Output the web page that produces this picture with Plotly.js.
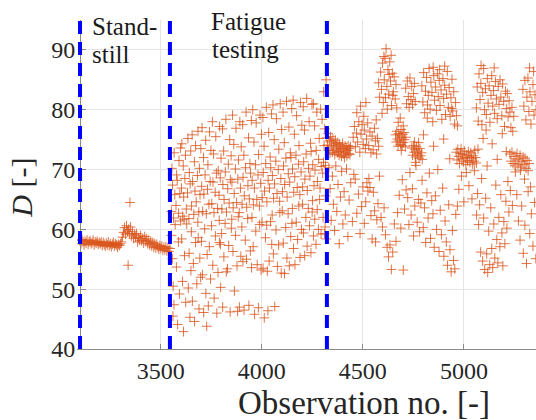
<!DOCTYPE html>
<html>
<head>
<meta charset="utf-8">
<script src="https://cdn.plot.ly/plotly-3.0.1.min.js"></script>
<style>html,body{margin:0;padding:0;background:#fff;}#chart{width:536px;height:420px;}</style>
</head>
<body>
<div id="chart"></div>
<script>
// ---- Data (observation no., D) ----
const phaseBounds = [3100, 3545, 4322];
const xTicks = [3500, 4000, 4500, 5000];
const yTicks = [40, 50, 60, 70, 80, 90];
const standstillLabel = ["Stand-", "still"];
const fatigueLabel = ["Fatigue", "testing"];
const xTitle = "Observation no. [-]";
const yTitle = "<i>D</i> [-]";

const standstill = [
[3100,58.1],[3105,57.6],[3110,58.3],[3115,57.9],[3120,57.4],[3125,58.0],[3130,57.7],[3135,58.2],[3140,57.5],[3145,57.9],
[3150,58.1],[3155,57.6],[3160,57.8],[3165,58.2],[3170,57.4],[3175,57.9],[3180,57.7],[3185,58.0],[3190,57.5],[3195,57.8],
[3200,57.6],[3205,57.9],[3210,57.3],[3215,57.8],[3220,57.5],[3225,57.2],[3230,57.7],[3235,57.4],[3240,57.9],[3245,57.3],
[3250,57.6],[3255,57.1],[3260,57.5],[3265,57.8],[3270,57.2],[3275,57.6],[3280,57.4],[3285,57.0],[3290,57.5],[3295,57.3],
[3300,57.6],[3305,57.9],[3310,58.7],[3315,59.5],[3320,60.3],[3325,59.2],[3330,60.6],[3335,59.7],[3340,60.0],[3345,59.3],
[3350,60.4],[3355,58.9],[3360,59.6],[3365,58.5],[3370,59.2],[3375,58.7],[3380,59.3],[3385,57.9],[3390,58.6],[3395,58.2],
[3400,59.0],[3405,58.1],[3410,58.5],[3415,57.7],[3420,58.8],[3425,58.0],[3430,58.4],[3435,57.6],[3440,58.2],[3445,57.4],
[3450,58.0],[3455,57.2],[3460,57.8],[3465,57.0],[3470,57.6],[3475,56.9],[3480,57.5],[3485,57.1],[3490,56.7],[3495,57.3],
[3500,56.8],[3505,57.2],[3510,56.5],[3515,57.0],[3520,56.6],[3525,57.1],[3530,56.4],[3535,56.9],[3540,56.3],[3545,56.8],
[3338,54.0],[3347,64.5]
];

const fatigue = [
[3552,63.0],[3558,67.4],[3563,61.9],[3569,65.8],[3575,64.0],[3581,68.2],[3588,62.7],[3594,66.0],
[3555,70.2],[3566,72.8],[3578,69.1],[3590,71.5],[3597,73.6],
[3553,59.0],[3557,55.1],[3561,50.5],[3565,47.4],[3571,60.8],[3577,53.7],[3583,44.1],[3587,57.9],[3592,49.2],[3598,61.4],[3560,45.5],
[3602,66.9],[3608,62.2],[3613,65.4],[3619,68.5],[3626,63.4],[3632,66.1],[3639,61.8],[3645,67.6],
[3604,74.3],[3611,70.6],[3622,72.4],[3634,75.2],[3641,69.5],[3648,73.1],
[3603,58.4],[3607,51.3],[3612,42.9],[3617,55.6],[3623,47.8],[3628,60.9],[3636,50.2],[3640,56.0],[3644,45.3],[3649,53.1],[3615,61.7],
[3652,63.9],[3657,68.0],[3663,62.5],[3669,66.4],[3675,64.6],[3681,69.0],[3688,62.9],[3694,65.8],
[3655,75.8],[3666,71.3],[3672,74.0],[3684,76.4],[3691,70.2],[3698,73.5],
[3651,59.6],[3656,48.0],[3661,54.3],[3667,44.6],[3672,57.8],[3678,50.9],[3683,61.2],[3689,46.7],[3693,55.2],[3697,52.0],[3685,58.6],
[3702,67.2],[3707,63.0],[3713,65.9],[3719,69.1],[3725,62.6],[3731,66.7],[3738,64.2],[3744,68.0],
[3704,77.0],[3711,72.0],[3722,74.9],[3733,70.8],[3741,76.3],[3748,73.2],
[3701,58.0],[3706,52.4],[3712,46.1],[3717,60.1],[3723,49.3],[3729,55.8],[3735,47.2],[3740,57.1],[3746,51.7],[3727,43.8],
[3752,64.3],[3758,67.9],[3763,62.8],[3769,66.2],[3775,69.4],[3781,63.5],[3788,65.7],[3794,68.6],[3790,57.8],[3795,57.5],
[3755,78.0],[3761,72.6],[3772,75.5],[3784,69.8],[3791,77.2],[3798,71.9],
[3751,60.6],[3757,54.0],[3764,48.5],[3770,58.9],[3777,46.0],[3783,52.8],[3789,61.5],[3796,50.3],
[3802,63.4],[3807,67.5],[3813,65.0],[3819,69.6],[3825,62.9],[3831,66.8],[3838,64.4],[3844,68.3],
[3805,76.8],[3811,73.1],[3822,78.4],[3834,70.9],[3841,75.0],[3848,72.3],
[3801,59.3],[3806,47.0],[3812,55.4],[3818,61.0],[3824,52.9],[3830,53.4],[3836,57.3],[3843,46.2],[3849,60.2],
[3852,67.9],[3858,63.6],[3863,66.0],[3869,70.1],[3875,64.5],[3881,68.4],[3888,62.8],[3894,66.9],
[3855,79.1],[3861,74.2],[3872,76.9],[3884,71.6],[3891,78.0],[3898,73.8],
[3851,61.7],[3857,56.3],[3864,49.7],[3870,59.0],[3877,53.9],[3883,62.1],[3889,47.0],[3896,55.5],[3880,46.3],
[3902,64.2],[3907,68.7],[3913,65.6],[3919,70.3],[3925,63.7],[3931,67.3],[3938,65.1],[3944,69.4],
[3905,77.5],[3911,72.4],[3922,79.6],[3934,75.3],[3941,71.0],[3948,78.2],
[3901,60.4],[3906,54.6],[3912,46.5],[3918,58.2],[3924,55.0],[3930,61.8],[3936,47.3],[3943,56.4],[3949,53.6],
[3952,68.2],[3958,64.1],[3963,66.9],[3969,70.8],[3975,65.0],[3981,69.1],[3988,63.9],[3994,67.7],
[3955,80.0],[3961,74.6],[3972,77.8],[3984,72.5],[3991,79.1],[3998,75.9],
[3951,62.0],[3957,57.1],[3964,45.8],[3970,59.7],[3977,54.1],[3983,46.9],[3989,60.8],[3996,53.2],
[4002,65.3],[4007,69.5],[4013,66.4],[4019,71.0],[4025,64.6],[4031,68.2],[4038,66.9],[4044,70.3],
[4005,78.7],[4011,73.9],[4022,80.4],[4034,76.2],[4041,72.1],[4048,79.3],
[4001,61.2],[4006,53.5],[4012,45.2],[4018,58.6],[4024,60.7],[4030,46.4],[4036,54.7],[4043,61.3],[4049,57.5],[4027,53.0],
[4052,69.0],[4058,65.2],[4063,67.6],[4069,71.4],[4075,66.0],[4081,70.0],[4088,64.7],[4094,68.5],
[4055,80.8],[4061,75.0],[4072,78.5],[4084,73.4],[4091,81.0],[4098,76.7],
[4051,62.4],[4057,55.9],[4064,47.1],[4070,59.9],[4077,53.8],[4083,57.4],[4089,62.8],[4096,52.7],
[4102,66.3],[4107,70.6],[4113,67.5],[4119,71.9],[4125,65.4],[4131,69.3],[4138,67.9],[4144,72.0],
[4105,79.6],[4111,74.5],[4122,81.4],[4134,77.1],[4141,72.8],[4148,80.2],
[4101,63.1],[4106,57.7],[4112,52.6],[4118,60.3],[4124,55.2],[4130,62.6],[4136,53.9],[4143,58.8],[4149,61.0],
[4152,70.1],[4158,66.2],[4163,68.8],[4169,72.4],[4175,67.0],[4181,70.9],[4188,65.8],[4194,69.6],
[4155,81.6],[4161,75.9],[4172,79.0],[4184,74.0],[4191,81.2],[4198,77.4],
[4151,63.5],[4157,56.8],[4164,54.1],[4170,61.2],[4177,58.3],[4183,63.9],[4189,55.3],[4196,60.0],
[4202,67.1],[4207,71.3],[4213,68.4],[4219,72.6],[4225,66.5],[4231,70.2],[4238,68.9],[4244,73.0],
[4205,80.5],[4211,76.6],[4222,81.9],[4234,78.0],[4241,74.4],[4248,80.9],
[4201,64.2],[4206,59.4],[4212,55.6],[4218,62.0],[4224,57.2],[4230,63.5],[4236,60.6],[4243,56.1],[4249,62.9],
[4252,70.8],[4258,67.3],[4263,69.9],[4269,73.2],[4275,68.0],[4281,71.7],[4288,66.9],[4294,70.5],
[4255,81.0],[4261,77.3],[4272,79.6],[4284,75.2],[4291,80.1],[4298,78.4],
[4251,64.8],[4256,58.9],[4262,61.7],[4268,57.5],[4274,63.3],[4280,60.0],[4286,65.0],[4293,59.2],
[4301,69.4],[4305,71.2],[4308,74.0],[4311,76.8],[4303,62.0],[4313,60.4],[4316,65.6],[4318,85.0],[4306,83.0],[4319,58.4],[4315,70.7],[4310,59.3]
];

const afterTest = [
[4322,75.3],[4325,74.1],[4328,76.0],[4331,73.2],[4334,74.8],[4337,72.7],[4340,75.5],[4343,73.9],[4346,74.6],[4349,72.9],
[4352,75.1],[4355,73.6],[4358,74.3],[4361,72.5],[4364,74.9],[4367,73.3],[4370,74.0],[4373,72.8],[4376,74.5],[4379,73.1],
[4382,72.4],[4385,74.2],[4388,73.0],[4391,73.8],[4394,72.2],[4397,73.5],[4400,74.4],[4403,72.6],[4406,73.4],[4409,72.0],
[4412,73.9],[4415,72.9],[4418,73.6],[4421,72.3],[4424,73.2],[4427,74.0],[4430,72.7],[4433,73.5],[4436,72.5],[4439,73.8],
[4452,75.4],[4458,77.2],[4463,73.8],[4469,76.1],[4474,74.6],[4480,78.0],[4485,72.9],[4491,75.9],[4496,77.5],[4502,74.2],
[4507,76.6],[4513,73.5],[4518,75.1],[4524,77.8],[4529,74.0],[4535,76.3],[4540,72.8],[4546,75.6],[4551,73.3],[4557,76.9],
[4562,74.8],[4568,72.6],[4573,75.2],[4578,73.9],[4566,78.3],
[4470,79.5],[4488,80.6],[4505,78.9],[4515,81.2],
[4578,84.5],[4583,82.1],[4588,86.3],[4592,83.4],[4597,87.8],[4601,81.2],[4606,85.0],[4610,88.6],[4615,90.2],[4619,83.9],
[4624,86.7],[4628,82.6],[4633,88.0],[4637,84.8],[4642,80.7],[4646,86.1],[4651,83.0],[4655,85.5],[4660,81.8],[4664,84.2],
[4668,80.3],[4595,79.4],[4621,80.1],[4640,89.1],[4612,82.0],[4630,85.9],[4648,82.4],[4604,88.9],
[4662,75.8],[4665,74.6],[4668,76.4],[4671,75.1],[4674,73.9],[4677,76.0],[4680,74.8],[4683,75.6],[4686,74.2],[4689,76.7],
[4692,75.3],[4695,74.0],[4698,75.9],[4701,74.5],[4704,76.2],[4707,75.0],[4710,73.8],[4713,75.4],[4675,77.9],[4690,73.2],
[4700,77.3],[4685,78.6],
[4712,83.6],[4716,81.0],[4720,84.8],[4725,82.2],[4729,80.4],[4733,85.3],[4738,81.7],[4742,83.9],[4746,80.9],[4751,82.7],
[4755,84.4],[4759,81.4],
[4742,73.6],[4746,72.4],[4750,74.0],[4754,72.9],[4758,73.4],[4762,72.1],[4766,73.8],[4770,72.6],[4774,73.1],[4778,71.9],
[4782,73.5],[4786,72.3],[4790,72.8],[4794,71.7],[4760,71.2],[4776,74.5],
[4792,84.0],[4797,81.3],[4801,86.2],[4806,79.5],[4810,83.1],[4815,85.4],[4819,78.6],[4824,82.4],[4828,86.9],[4833,80.1],
[4837,84.6],[4842,82.9],[4846,78.0],[4851,85.7],[4855,81.6],[4860,83.8],[4864,79.9],[4869,86.0],[4873,82.2],[4878,84.9],
[4882,80.7],[4887,83.3],[4891,78.4],[4896,85.2],[4900,81.9],[4905,84.1],[4909,79.2],[4914,82.6],[4918,86.4],[4923,80.4],
[4927,83.7],[4932,78.9],[4936,82.0],[4941,85.1],[4945,79.8],[4950,83.0],[4954,77.6],[4959,81.2],[4963,79.0],[4968,77.3],
[4848,87.1],[4880,86.7],[4905,87.3],[4820,80.8],[4940,80.2],
[4962,72.9],[4966,71.6],[4970,73.4],[4974,72.2],[4978,71.0],[4982,72.7],[4986,73.5],[4990,71.8],[4994,72.5],[4998,71.3],
[5002,73.1],[5006,72.0],[5010,70.8],[5014,72.4],[5018,71.5],[5022,73.0],[5026,72.1],[5030,71.2],[5034,72.8],[5038,71.9],
[5042,70.9],[5046,72.3],[5050,71.4],[5054,73.2],[5058,72.0],[5062,71.1],
[5062,80.3],[5066,83.8],[5071,78.1],[5075,86.0],[5080,81.7],[5084,84.4],[5089,77.5],[5093,82.9],[5098,86.9],[5102,80.0],
[5107,83.5],[5111,79.2],[5116,85.2],[5120,81.1],[5125,84.0],[5129,77.9],[5134,82.4],[5138,85.7],[5143,80.6],[5147,83.2],
[5152,79.4],[5156,84.7],[5161,81.8],[5165,78.5],[5170,83.9],[5174,80.9],[5179,85.0],[5183,82.1],[5188,79.0],[5192,84.3],
[5197,81.4],[5201,77.2],[5206,83.1],[5210,80.2],[5215,82.7],[5219,78.8],[5224,81.5],[5228,79.6],[5233,77.0],[5238,80.4],
[5242,76.4],[5247,78.9],[5085,87.4],[5150,87.0],[5110,76.6],
[5228,72.6],[5233,71.4],[5238,72.9],[5243,71.0],[5248,72.2],[5253,70.6],[5258,71.8],[5263,72.7],[5268,70.9],[5273,71.6],
[5278,72.4],[5283,70.4],[5288,71.3],[5293,72.1],[5298,70.8],[5303,71.9],[5308,70.2],[5313,71.5],[5318,69.8],[5323,71.0],
[5255,69.6],[5280,69.9],
[5292,83.4],[5297,80.6],[5302,84.9],[5307,78.3],[5312,82.1],[5317,85.3],[5322,79.7],[5327,83.0],[5332,77.6],[5337,81.4],
[5342,84.2],[5347,79.1],[5352,82.5],[5357,80.0],[5325,87.0],[5345,86.4],
[4332,70.3],[4338,66.8],[4343,61.5],[4349,68.9],[4354,64.2],[4360,59.8],[4366,70.6],[4371,63.0],[4377,67.5],[4383,57.6],
[4389,65.4],[4395,69.7],[4401,60.9],[4407,66.3],[4413,62.4],[4419,70.1],[4426,58.8],[4432,64.9],[4440,67.8],[4448,61.3],[4455,69.2],
[4462,68.4],[4470,62.7],[4478,65.9],[4486,59.3],[4493,63.8],[4500,67.1],[4507,61.0],[4514,64.6],[4520,67.8],[4525,66.4],
[4530,68.5],[4535,67.0],[4540,62.3],[4546,58.4],[4552,66.2],[4558,63.1],[4563,57.9],[4569,61.6],[4575,64.3],[4582,68.9],
[4590,62.0],[4597,60.4],[4605,63.6],[4612,59.1],[4620,57.0],[4627,55.4],[4634,57.4],[4641,53.3],[4648,56.2],[4656,60.9],
[4664,58.0],[4672,62.8],[4680,65.7],[4688,60.2],[4695,68.3],[4700,53.2],[4706,63.4],[4714,66.6],
[4722,65.3],[4728,60.8],[4733,69.5],[4739,62.4],[4745,66.8],[4751,58.9],[4757,63.9],[4763,70.7],[4769,61.2],[4775,65.0],
[4781,59.6],[4787,64.4],[4793,68.2],[4799,60.3],[4805,63.6],[4811,57.8],[4817,66.1],[4823,61.9],[4829,69.4],[4835,58.5],
[4841,64.8],[4847,62.6],[4853,57.0],[4859,65.6],[4865,60.0],[4871,70.0],[4877,56.3],[4883,63.2],[4889,59.1],[4895,66.9],
[4901,55.5],[4907,61.4],[4913,57.9],[4919,54.0],[4925,64.1],[4931,56.6],[4937,52.9],[4943,59.8],[4949,54.8],[4955,53.4],
[4960,62.5],[4755,74.6],[4800,75.8],[4850,73.9],[4900,75.1],[4930,71.8],
[4975,66.7],[4988,68.9],[5000,64.6],[5012,69.5],[5025,67.3],[5040,65.1],[5052,69.8],[4968,63.9],
[5063,62.4],[5068,66.0],[5073,60.8],[5078,64.1],[5083,56.2],[5088,68.5],[5093,54.7],[5098,61.9],[5103,53.3],[5108,65.2],
[5113,55.9],[5118,52.8],[5123,59.7],[5128,54.1],[5133,63.6],[5138,56.8],[5143,53.6],[5148,60.9],[5153,55.2],[5158,67.4],
[5163,58.3],[5168,54.4],[5173,62.0],[5178,57.1],[5183,65.8],[5188,59.4],[5193,53.9],[5198,61.3],[5203,57.6],[5208,64.7],
[5213,60.2],[5218,68.0],[5223,62.9],[5230,66.5],[5240,64.0],[5070,73.4],[5095,75.2],[5115,70.6],[5140,74.3],[5165,71.7],
[5190,76.0],[5210,73.0],
[5262,65.8],[5270,61.4],[5278,58.2],[5286,63.9],[5294,56.0],[5302,60.7],[5310,54.3],[5318,66.3],[5326,59.3],[5334,62.6],
[5342,57.2],[5350,64.5],[5356,55.1],[5300,68.4],[5330,67.1]
];

// ---- Drawing ----
const markerStyle = {
  symbol: 'cross-thin', size: 7,
  color: 'rgba(217,83,25,0.8)',
  line: {color: 'rgba(217,83,25,0.8)', width: 1}
};
function seg(pairs) {
  return {
    type: 'scatter', mode: 'markers',
    x: pairs.map(p => p[0]), y: pairs.map(p => p[1]),
    marker: markerStyle, hoverinfo: 'skip', showlegend: false
  };
}
const traces = [seg(standstill), seg(fatigue), seg(afterTest)];

const shapes = phaseBounds.map(b => ({
  type: 'line', xref: 'x', yref: 'paper', x0: b, x1: b, y0: 0, y1: 1,
  line: {color: '#0000ff', width: 4, dash: '13px,8px'}, layer: 'above'
}));

const serif = '"Liberation Serif", "Times New Roman", serif';
const txt = '#262626';
const labFont = {family: serif, size: 25, color: '#1a1a1a'};
function lab(text, x, y, anchor) {
  return {text: text, xref: 'x', yref: 'paper', x: x, y: y, xanchor: anchor, yanchor: 'middle',
          showarrow: false, font: labFont};
}
const layout = {
  width: 536, height: 420,
  margin: {l: 77, r: 0, t: 20, b: 71},
  paper_bgcolor: '#ffffff', plot_bgcolor: '#ffffff',
  font: {family: serif, color: txt},
  showlegend: false,
  xaxis: {
    range: [3085, 5357], tickvals: xTicks, ticktext: xTicks.map(String),
    showgrid: true, gridcolor: '#e5e5e5', gridwidth: 1,
    ticks: 'inside', ticklen: 5, tickcolor: '#8a8a8a',
    showline: true, linecolor: '#8a8a8a', linewidth: 1, zeroline: false,
    tickfont: {family: serif, size: 24, color: txt},
    ticklabelstandoff: 0
  },
  yaxis: {
    range: [40, 95], tickvals: yTicks, ticktext: yTicks.map(String),
    anchor: 'free', position: 0.0066,
    showgrid: true, gridcolor: '#e5e5e5', gridwidth: 1,
    ticks: 'inside', ticklen: 5, tickcolor: '#8a8a8a',
    showline: true, linecolor: '#8a8a8a', linewidth: 1, zeroline: false,
    tickfont: {family: serif, size: 24, color: txt},
    ticklabelstandoff: 0
  },
  shapes: shapes,
  annotations: [
    lab(standstillLabel[0], 3147, 0.980, 'left'),
    lab(standstillLabel[1], 3147, 0.895, 'left'),
    lab(fatigueLabel[0], 3936, 0.994, 'center'),
    lab(fatigueLabel[1], 3921, 0.909, 'center'),
    {text: xTitle, xref: 'paper', yref: 'paper', x: 0.625, y: -0.164, xanchor: 'center', yanchor: 'middle',
     showarrow: false, font: {family: serif, size: 33, color: txt}},
    {text: yTitle, xref: 'paper', yref: 'paper', x: -0.12, y: 0.49, xanchor: 'center', yanchor: 'middle',
     textangle: -90, showarrow: false, font: {family: serif, size: 30, color: txt}}
  ]
};

Plotly.newPlot('chart', traces, layout, {staticPlot: true, displayModeBar: false});
</script>
</body>
</html>
